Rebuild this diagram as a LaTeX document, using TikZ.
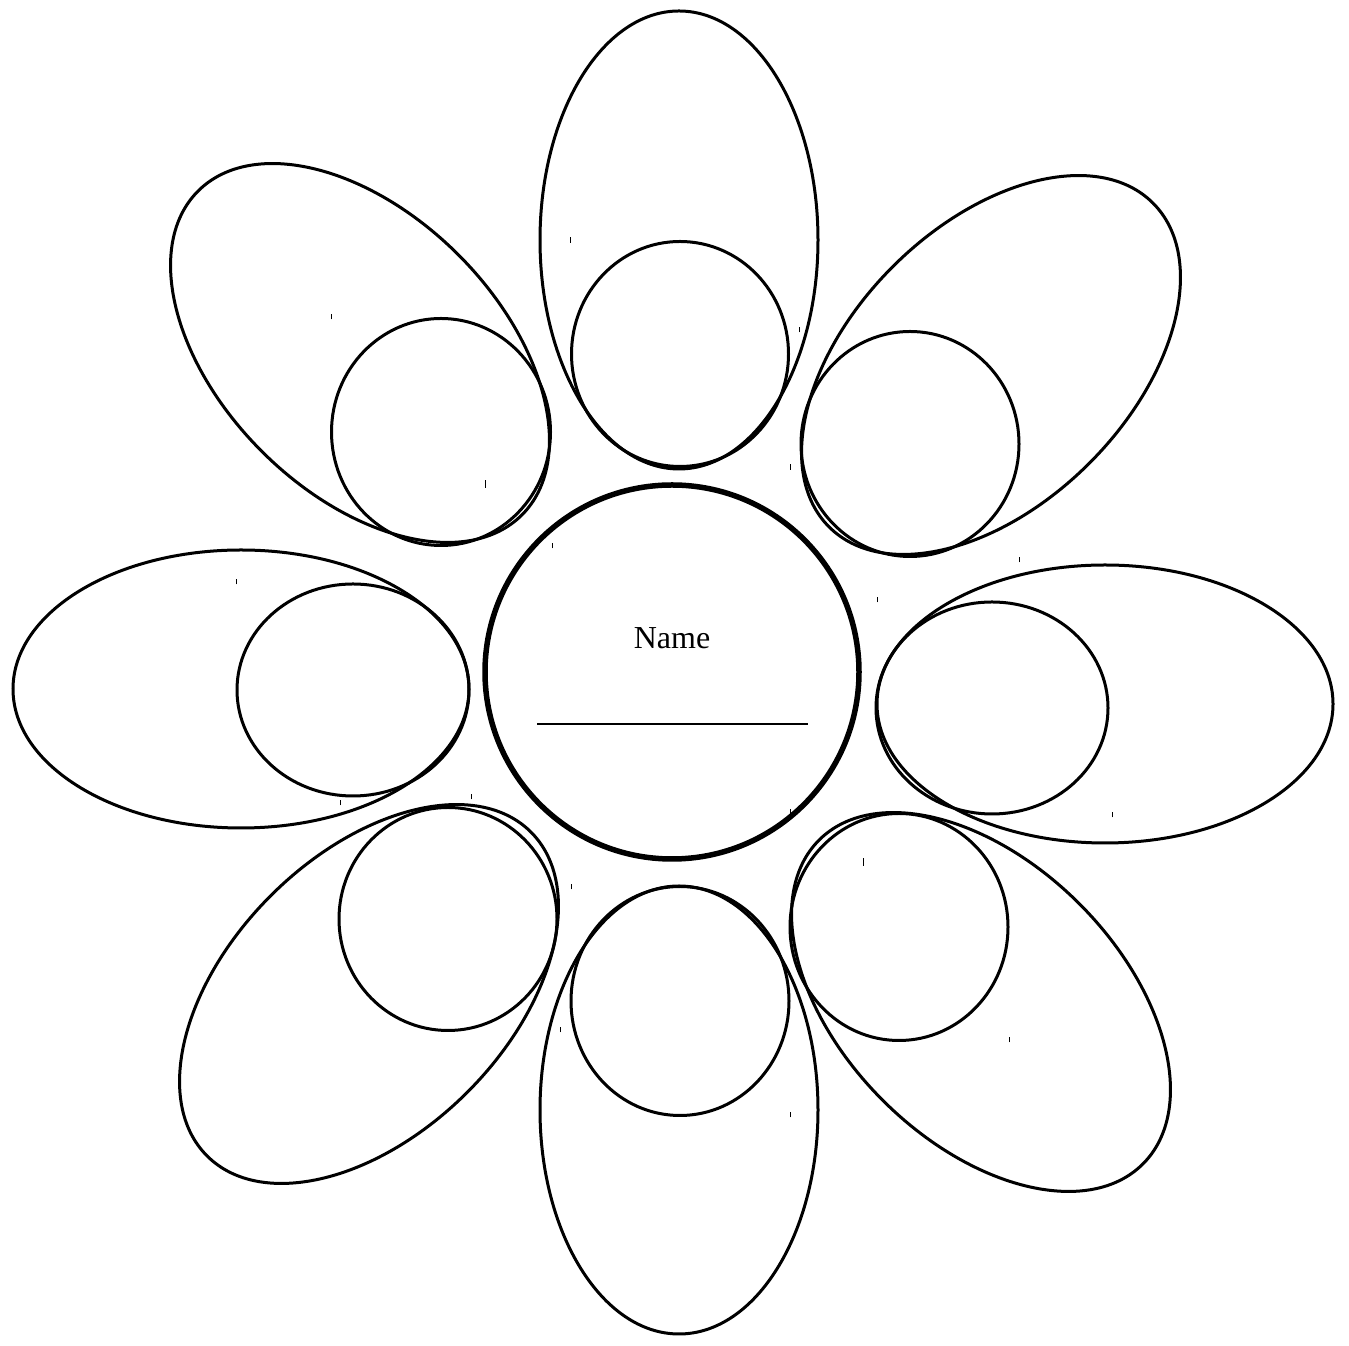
\documentclass[tikz,border=0pt]{standalone}
\usepackage{fontspec}
\setmainfont{Liberation Serif}
\begin{document}
\begin{tikzpicture}[x=1pt,y=1pt,
  petal/.style={draw=black,line width=3pt},
  core/.style={draw=black,line width=5.5pt},
  tick/.style={draw=black,line width=1pt}]
\useasboundingbox (0,0) rectangle (1349,1346);
% petals
\draw[petal] (679,1106) ellipse [x radius=139,y radius=229];
\draw[petal] (679,236) ellipse [x radius=139,y radius=224];
\draw[petal] (241,657) ellipse [x radius=228,y radius=139];
\draw[petal] (1105,642) ellipse [x radius=228,y radius=139];
\draw[petal,rotate around={-45:(360,993)}] (360,993) ellipse [x radius=229,y radius=139];
\draw[petal,rotate around={45:(991,981)}] (991,981) ellipse [x radius=229,y radius=139];
\draw[petal,rotate around={45:(369,352)}] (369,352) ellipse [x radius=229,y radius=139];
\draw[petal,rotate around={-45:(981,344)}] (981,344) ellipse [x radius=229,y radius=139];
% inner circles
\draw[petal] (680,992) ellipse [x radius=108.5,y radius=112.5];
\draw[petal] (680,345) ellipse [x radius=109,y radius=114.5];
\draw[petal] (353,656) ellipse [x radius=116,y radius=106];
\draw[petal] (992,638) ellipse [x radius=116,y radius=106];
\draw[petal] (441,914) ellipse [x radius=109.5,y radius=113.5];
\draw[petal] (910,902) ellipse [x radius=109,y radius=112.5];
\draw[petal] (448,427) ellipse [x radius=109,y radius=111.5];
\draw[petal] (899,419) ellipse [x radius=109,y radius=113.5];
% center
\draw[core] (672,674) circle [radius=187];
\node[font=\fontsize{32}{38}\selectfont] (name) at (672,708) {Name};
\coordinate (la) at (537,622);
\coordinate (lb) at (808,622);
\draw[line width=1.5pt] (la) -- (lb);
% small marks
\foreach \x/\y/\l in {570/240/6,331/317/5,485/484/8,552/546/5,799/330/5,790/467/6,1019/560/5,877/600/5,236/582/5,340/803/5,471/797/5,790/812/5,863/862/8,571/887/5,560/1030/5,790/1115/5,1009/1040/5,1112/815/5}
  \draw[tick] (\x,{1346-\y-\l/2}) -- (\x,{1346-\y+\l/2});
\end{tikzpicture}
\end{document}
